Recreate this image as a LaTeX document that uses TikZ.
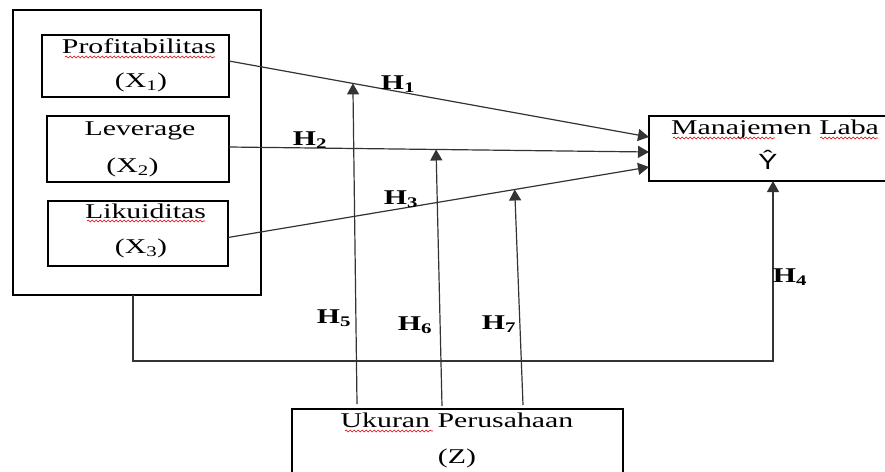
\documentclass[tikz,border=0pt]{standalone}
\usepackage{fontspec}
\setmainfont[FakeStretch=1.42]{Liberation Serif}
\newfontfamily\hatfont[FakeStretch=1.3]{Liberation Sans}
\usetikzlibrary{arrows.meta,calc,decorations.pathmorphing}
\begin{document}
\begin{tikzpicture}[x=1pt,y=-1pt,
  box/.style={draw=black,line width=1.9pt,inner sep=0pt,outer sep=0pt},
  conn/.style={draw=black!80,line width=1.2pt},
  arr/.style={conn,-{Triangle[length=11pt,width=12pt]}},
  txt/.style={anchor=base,inner sep=0pt,font=\fontsize{21}{25}\selectfont},
  hyp/.style={anchor=base,inner sep=0pt,font=\fontsize{21}{25}\selectfont\bfseries},
  squig/.style={draw=red!85!black,line width=0.6pt,decorate,decoration={snake,amplitude=0.9pt,segment length=4pt}}]
\useasboundingbox (0,0) rectangle (885,471);

% boxes
\node[box,minimum width=248pt,minimum height=285pt] (outer) at (137,152.5) {};
\node[box,minimum width=187pt,minimum height=62pt] (x1) at (135.5,66) {};
\node[box,minimum width=182pt,minimum height=66pt] (x2) at (138,149) {};
\node[box,minimum width=180pt,minimum height=65pt] (x3) at (138,233.5) {};
\node[box,minimum width=246pt,minimum height=65pt] (ybox) at (772,148.5) {};
\node[box,minimum width=331pt,minimum height=80pt] (zbox) at (457.5,449) {};

% texts
\node[txt] (t1a) at (139,53.5) {Profitabilitas};
\node[txt] (t1b) at (141,87) {(X\textsubscript{1})};
\node[txt] (t2a) at (140,135) {Leverage};
\node[txt] (t2b) at (132.5,172) {(X\textsubscript{2})};
\node[txt] (t3a) at (145.5,218) {Likuiditas};
\node[txt] (t3b) at (141,253) {(X\textsubscript{3})};
\node[txt] (tya) at (775,134) {Manajemen Laba};
\node[txt,font=\fontsize{22}{25}\hatfont] (tyb) at (768,169) {Ŷ};
\node[txt] (tza) at (457,427) {Ukuran Perusahaan};
\node[txt] (tzb) at (457,463) {(Z)};

% spell-check squiggles
\draw[squig] (65,57) -- (215,57);
\draw[squig] (87,221) -- (205,221);
\draw[squig] (673,138) -- (775,138);
\draw[squig] (820,138) -- (878,138);
\draw[squig] (345,431) -- (433,431);

% connectors
\coordinate (h1s) at ([yshift=5pt]x1.east);
\coordinate (h1e) at ([yshift=11.5pt]ybox.west);
\coordinate (h2s) at ([yshift=2pt]x2.east);
\coordinate (h2e) at ([yshift=-3.5pt]ybox.west);
\coordinate (h3s) at ([yshift=-4pt]x3.east);
\coordinate (h3e) at ([yshift=-18.5pt]ybox.west);
\draw[arr] (h1s) -- (h1e);
\draw[arr] (h2s) -- (h2e);
\draw[arr] (h3s) -- (h3e);

\coordinate (h5s) at (357,404);
\coordinate (h6s) at (442,406);
\coordinate (h7s) at (523,405);
\draw[arr] (h5s) -- ($(h1s)!0.295!(h1e)$);
\draw[arr] (h6s) -- ($(h2s)!0.493!(h2e)$);
\draw[arr] (h7s) -- ($(h3s)!0.681!(h3e)$);

\coordinate (h4s) at ([xshift=-4pt]outer.south);
\coordinate (h4c) at (773,361);
\draw[arr] (h4s) |- (h4c) -- (ybox.south -| h4c);

% hypothesis labels
\node[hyp] (l1) at (398,89) {H\textsubscript{1}};
\node[hyp] (l2) at (310,145) {H\textsubscript{2}};
\node[hyp] (l3) at (401,204) {H\textsubscript{3}};
\node[hyp] (l4) at (790,282) {H\textsubscript{4}};
\node[hyp] (l5) at (334,323) {H\textsubscript{5}};
\node[hyp] (l6) at (415,330) {H\textsubscript{6}};
\node[hyp] (l7) at (499,329) {H\textsubscript{7}};
\end{tikzpicture}
\end{document}
